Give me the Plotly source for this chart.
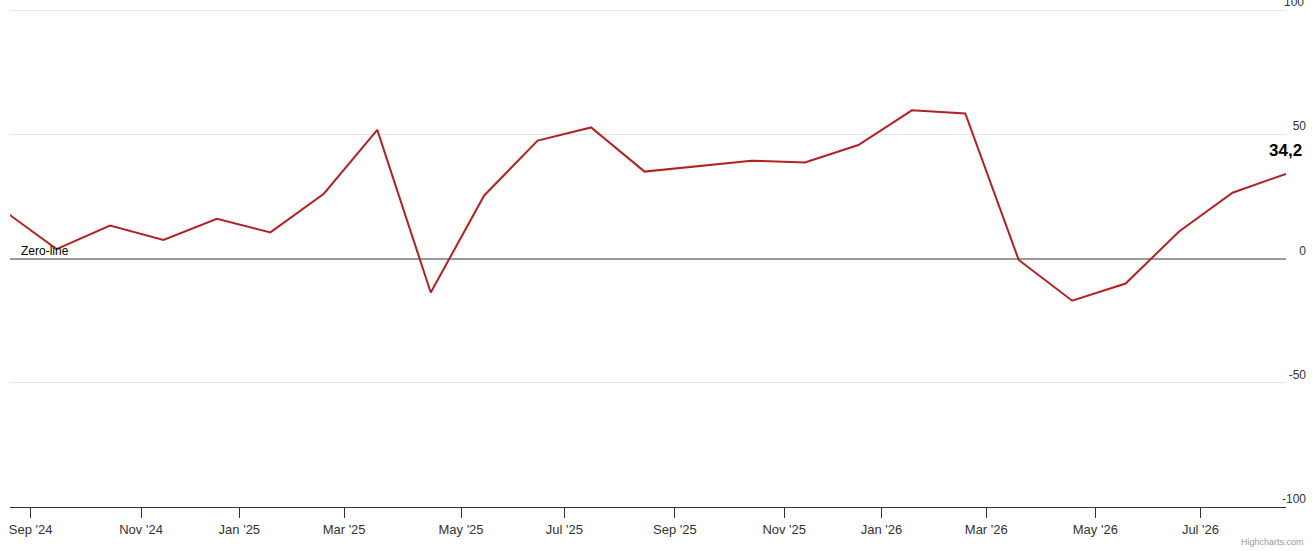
import numpy as np
import pandas as pd
import plotly.graph_objects as go

# ---- data ----
dates = ["2024-08-16", "2024-09-16", "2024-10-14", "2024-11-14", "2024-12-19",
         "2025-01-19", "2025-02-18", "2025-03-19", "2025-04-14", "2025-05-14",
         "2025-06-16", "2025-07-16", "2025-08-15", "2025-09-14", "2025-10-13",
         "2025-11-13", "2025-12-19", "2026-01-18", "2026-02-18", "2026-03-18",
         "2026-04-18", "2026-05-18", "2026-06-19", "2026-07-19", "2026-08-17"]
values = [19.6, 3.9, 13.4, 7.6, 16.1, 10.6, 26.2, 51.9, -13.6, 25.5,
          47.6, 52.9, 35.1, 37.3, 39.5, 38.8, 45.8, 59.8, 58.5, -0.5,
          -16.9, -10.0, 11.0, 26.6, 34.2]
tick_months = pd.date_range("2024-09-01", "2026-07-01", freq="2MS")
view_start = "2024-08-20"
y_ticks = [-100, -50, 0, 50, 100]
zero_label = "Zero-line"
credit = "Highcharts.com"

# ordinal axis: points equally spaced, ticks interpolated between point dates
d = pd.to_datetime(dates)
d_num = d.values.astype("datetime64[D]").astype(np.int64)
idx = np.arange(len(values))
tick_pos = np.interp(tick_months.values.astype("datetime64[D]").astype(np.int64), d_num, idx)
tick_text = [t.strftime("%b '%y") for t in tick_months]
x_start = float(np.interp(np.datetime64(view_start, "D").astype(np.int64), d_num, idx))

FONT = "Liberation Sans, Arial, Helvetica, sans-serif"

fig = go.Figure()
fig.add_trace(go.Scatter(
    x=idx, y=values, mode="lines",
    line=dict(color="#b22222", width=2),
    hoverinfo="skip", showlegend=False,
))

W, H = 1316, 551
Y_PAD = 0.6  # tiny headroom so the top gridline is kept
L, R, B = 10, 10, 44
T = 10 - Y_PAD * (H - 10 - B) / 200
plot_w = W - L - R
fig.update_layout(
    width=W, height=H,
    margin=dict(l=L, r=R, t=T, b=B),
    paper_bgcolor="white", plot_bgcolor="white",
    font=dict(family=FONT, color="#333333"),
    xaxis=dict(
        domain=[0, (1286 - L) / plot_w],
        range=[x_start, idx[-1]],
        tickmode="array", tickvals=tick_pos, ticktext=tick_text,
        showgrid=False, zeroline=False,
        showline=True, linecolor="#333333", linewidth=1,
        ticks="outside", ticklen=10, tickcolor="#333333", tickwidth=1,
        tickfont=dict(size=13, color="#333333"),
    ),
    yaxis=dict(
        range=[-100, 100 + Y_PAD],
        tickmode="array", tickvals=y_ticks, ticktext=[str(v) for v in y_ticks],
        anchor="free", position=1, side="left",
        ticklabelposition="outside top",
        showgrid=True, gridcolor="#e6e6e6", gridwidth=1,
        zeroline=True, zerolinecolor="#999999", zerolinewidth=2,
        showline=False, ticks="",
        tickfont=dict(size=12, color="#333333"),
    ),
)

# top tick label sits above the plot area, where plotly drops it
fig.add_annotation(
    text=str(y_ticks[-1]),
    xref="paper", x=1, xanchor="right", xshift=0,
    yref="y", y=y_ticks[-1], yanchor="middle", yshift=8,
    showarrow=False, font=dict(size=12, color="#333333", family=FONT),
)
fig.add_annotation(
    text="<b>" + f"{values[-1]:.1f}".replace(".", ",") + "</b>",
    xref="paper", x=1, xanchor="right", xshift=-2,
    yref="y", y=values[-1], yanchor="middle", yshift=23,
    showarrow=False, font=dict(size=17, color="#000000", family=FONT),
)
fig.add_annotation(
    text=zero_label,
    xref="paper", x=0, xanchor="left", xshift=9,
    yref="y", y=0, yanchor="middle", yshift=8,
    showarrow=False, font=dict(size=12, color="#000000", family=FONT),
)
fig.add_annotation(
    text=credit,
    xref="paper", x=1, xanchor="right", xshift=0,
    yref="paper", y=0, yanchor="middle", yshift=-35,
    showarrow=False, font=dict(size=9, color="#999999", family=FONT),
)

fig.write_html("out.html", config={"displayModeBar": False},
               post_script="document.body.style.margin='0';")
